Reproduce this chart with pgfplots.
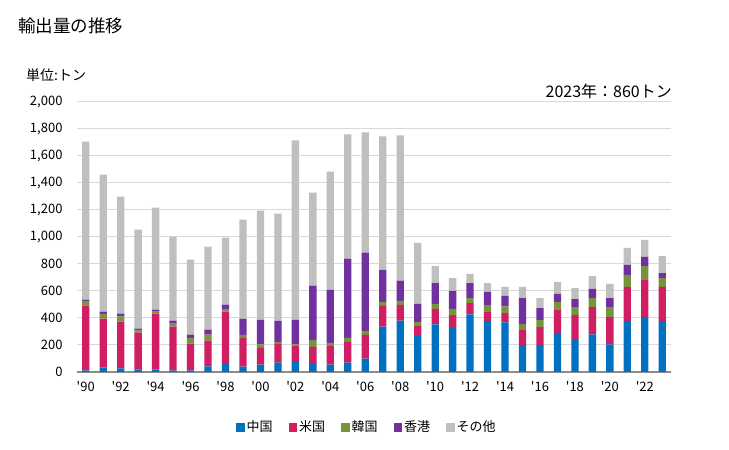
\documentclass[border=0pt]{standalone}
\usepackage{pgfplots}
\pgfplotsset{compat=1.18}
\usepackage{pgfplotstable}
\usepackage{fontspec}
\setmainfont{Noto Sans CJK JP}
\definecolor{cCN}{HTML}{0070C0}
\definecolor{cUS}{HTML}{D01E63}
\definecolor{cKR}{HTML}{77933C}
\definecolor{cHK}{HTML}{7030A0}
\definecolor{cOT}{HTML}{BFBFBF}
\definecolor{cGrid}{HTML}{D9D9D9}
\definecolor{cAxis}{HTML}{8C8C8C}
\pgfplotstableread{
year cn us kr hk ot
1990 12 479 35 10 1170
1991 32 363 35 17 1015
1992 27 346 39 20 867
1993 17 274 18 12 733
1994 17 415 15 15 755
1995 12 324 22 22 622
1996 12 198 42 25 555
1997 42 190 45 37 614
1998 59 388 15 37 496
1999 40 212 23 119 735
2000 54 124 27 181 809
2001 69 139 15 156 794
2002 74 117 14 181 1329
2003 59 127 52 401 690
2004 54 139 22 394 876
2005 69 154 29 587 921
2006 99 176 29 580 891
2007 337 153 30 237 988
2008 381 116 30 149 1076
2009 267 74 29 134 452
2010 353 114 37 155 126
2011 333 89 45 133 96
2012 427 84 37 111 67
2013 378 66 52 97 66
2014 368 69 49 77 67
2015 193 118 45 192 82
2016 200 133 52 89 74
2017 289 170 60 59 89
2018 237 185 59 59 81
2019 279 202 67 67 96
2020 205 202 74 67 104
2021 378 252 88 75 126
2022 407 274 104 67 126
2023 370 260 66 37 126
}\data
\begin{document}
\begin{tikzpicture}[x=1pt,y=1pt]
\path[use as bounding box] (0,0) rectangle (729,450);
\node[anchor=west,inner sep=0pt,font=\fontsize{17.5}{20}\selectfont] at (18,424.5) {輸出量の推移};
\node[anchor=west,inner sep=0pt,font=\fontsize{14}{16}\selectfont] at (26,375) {単位:トン};
\node[anchor=east,inner sep=0pt,font=\fontsize{16}{18}\selectfont] at (672,358.5) {2023年：860トン};
\begin{axis}[
  at={(77pt,78pt)}, anchor=south west, scale only axis,
  width=594pt, height=270pt,
  ybar stacked, bar width=7.3pt,
  xmin=1989.5, xmax=2023.5, ymin=0, ymax=2000,
  ytick={0,200,...,2000},
  xtick={1990,1992,...,2022},
  xticklabels={\textquotesingle90,\textquotesingle92,\textquotesingle94,\textquotesingle96,\textquotesingle98,\textquotesingle00,\textquotesingle02,\textquotesingle04,\textquotesingle06,\textquotesingle08,\textquotesingle10,\textquotesingle12,\textquotesingle14,\textquotesingle16,\textquotesingle18,\textquotesingle20,\textquotesingle22},
  axis x line*=bottom, axis y line*=left,
  y axis line style={draw=none},
  x axis line style={draw=cAxis, line width=1.5pt},
  ymajorgrids, grid style={draw=cGrid, line width=1pt},
  major tick length=0pt,
  scaled y ticks=false,
  /pgf/number format/1000 sep={,},
  /pgf/number format/assume math mode=true,
  tick label style={font=\fontsize{13}{15}\selectfont, text=black},
  yticklabel style={xshift=-11pt},
  xticklabel style={yshift=-6pt},
  legend style={at={(0.488,-0.204)}, anchor=center, draw=none, fill=none,
    legend columns=-1, font=\fontsize{13}{15}\selectfont,
    /tikz/every even column/.append style={column sep=14pt}},
  legend cell align=left,
]
\addplot[fill=cCN,draw=none,legend image code/.code={\fill[cCN] (0pt,-4.5pt) rectangle (8.5pt,4pt);}] table[x=year,y=cn]{\data};
\addplot[fill=cUS,draw=none,legend image code/.code={\fill[cUS] (0pt,-4.5pt) rectangle (8.5pt,4pt);}] table[x=year,y=us]{\data};
\addplot[fill=cKR,draw=none,legend image code/.code={\fill[cKR] (0pt,-4.5pt) rectangle (8.5pt,4pt);}] table[x=year,y=kr]{\data};
\addplot[fill=cHK,draw=none,legend image code/.code={\fill[cHK] (0pt,-4.5pt) rectangle (8.5pt,4pt);}] table[x=year,y=hk]{\data};
\addplot[fill=cOT,draw=none,legend image code/.code={\fill[cOT] (0pt,-4.5pt) rectangle (8.5pt,4pt);}] table[x=year,y=ot]{\data};
\legend{中国,米国,韓国,香港,その他}
\end{axis}
\end{tikzpicture}
\end{document}
